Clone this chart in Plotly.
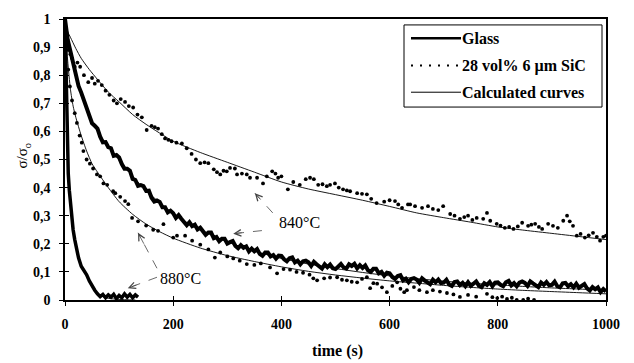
import plotly.graph_objects as go

# ---------------- data ----------------
x_ticks = [0, 200, 400, 600, 800, 1000]
x_tick_labels = ["0", "200", "400", "600", "800", "1000"]
y_ticks = [0, 0.1, 0.2, 0.3, 0.4, 0.5, 0.6, 0.7, 0.8, 0.9, 1.0]
y_tick_labels = ["0", "0,1", "0,2", "0,3", "0,4", "0,5", "0,6", "0,7", "0,8", "0,9", "1"]

# Glass, 840 °C (measured, noisy), one reading every 5 s
glass840_t = list(range(0, 1001, 5))
glass840_s = [
    1.0, 0.926, 0.885, 0.841, 0.797, 0.762, 0.738, 0.709, 0.689, 0.658,
    0.629, 0.62, 0.61, 0.581, 0.561, 0.562, 0.544, 0.54, 0.513, 0.516,
    0.507, 0.484, 0.467, 0.467, 0.46, 0.431, 0.427, 0.406, 0.409, 0.405,
    0.388, 0.389, 0.364, 0.35, 0.354, 0.349, 0.33, 0.33, 0.312, 0.318,
    0.309, 0.292, 0.302, 0.289, 0.277, 0.266, 0.277, 0.263, 0.268, 0.251,
    0.257, 0.242, 0.232, 0.24, 0.24, 0.22, 0.224, 0.209, 0.218, 0.218,
    0.201, 0.206, 0.21, 0.192, 0.184, 0.195, 0.186, 0.191, 0.173, 0.183,
    0.173, 0.181, 0.164, 0.157, 0.169, 0.169, 0.155, 0.16, 0.147, 0.158,
    0.157, 0.145, 0.138, 0.149, 0.152, 0.134, 0.14, 0.127, 0.138, 0.14,
    0.134, 0.121, 0.136, 0.127, 0.119, 0.112, 0.127, 0.117, 0.126, 0.113,
    0.11, 0.12, 0.128, 0.116, 0.112, 0.127, 0.121, 0.129, 0.113, 0.124,
    0.114, 0.123, 0.106, 0.1, 0.111, 0.111, 0.095, 0.1, 0.086, 0.097,
    0.095, 0.082, 0.075, 0.085, 0.088, 0.07, 0.076, 0.063, 0.075, 0.078,
    0.073, 0.061, 0.077, 0.069, 0.062, 0.056, 0.072, 0.063, 0.073, 0.06,
    0.062, 0.072, 0.055, 0.05, 0.064, 0.066, 0.053, 0.061, 0.049, 0.063,
    0.05, 0.059, 0.066, 0.051, 0.046, 0.06, 0.054, 0.064, 0.049, 0.062,
    0.063, 0.054, 0.049, 0.063, 0.068, 0.052, 0.06, 0.049, 0.062, 0.066,
    0.061, 0.05, 0.066, 0.059, 0.052, 0.046, 0.062, 0.054, 0.064, 0.052,
    0.054, 0.065, 0.049, 0.045, 0.059, 0.061, 0.049, 0.056, 0.045, 0.058,
    0.044, 0.051, 0.057, 0.041, 0.034, 0.046, 0.038, 0.045, 0.028, 0.039,
    0.03]

# Glass, 880 °C (measured)
glass880_t = [0, 1, 2, 3, 4, 5, 6, 8, 10, 12, 15, 18, 20, 25, 30, 35, 40, 45, 50, 55,
              60, 65, 70, 75, 80, 85, 90, 95, 100, 105, 110, 115, 120, 125, 130, 135]
glass880_s = [1.0, 0.9, 0.79, 0.68, 0.58, 0.5, 0.45, 0.39, 0.34, 0.30, 0.25, 0.215,
              0.195, 0.15, 0.12, 0.105, 0.09, 0.068, 0.05, 0.035, 0.022, 0.012, 0.02,
              0.008, 0.018, 0.01, 0.02, 0.005, 0.016, 0.008, 0.022, 0.01, 0.02, 0.008,
              0.018, 0.01]

# 28 vol% 6 um SiC, 840 °C (measured points)
sic840_t = [3, 6, 10, 13, 18, 23, 28, 35, 43, 50, 55, 61, 68, 75, 82, 90, 96, 103, 111,
            118, 126, 134, 142, 151, 160, 166, 172, 179, 185, 191, 197, 206, 216, 225,
            234, 242, 250, 258, 265, 275, 281, 287, 293, 299, 305, 314, 318, 327, 336,
            342, 355, 366, 373, 383, 389, 394, 400, 412, 422, 434, 445, 453, 460, 468,
            476, 484, 490, 499, 506, 514, 521, 527, 540, 549, 558, 566, 576, 590, 600,
            610, 616, 623, 634, 638, 647, 660, 671, 680, 690, 699, 712, 720, 730, 738,
            745, 753, 761, 773, 780, 786, 798, 805, 813, 821, 829, 837, 845, 856, 862,
            869, 876, 882, 893, 902, 911, 921, 928, 933, 939, 946, 953, 961, 968, 976,
            983, 989, 995, 1000]
sic840_s = [0.935, 0.89, 0.875, 0.86, 0.83, 0.845, 0.83, 0.80, 0.775, 0.79, 0.77, 0.78,
            0.765, 0.745, 0.73, 0.71, 0.70, 0.715, 0.705, 0.69, 0.685, 0.66, 0.65, 0.605,
            0.62, 0.615, 0.61, 0.59, 0.575, 0.57, 0.565, 0.56, 0.557, 0.54, 0.52, 0.50,
            0.487, 0.49, 0.487, 0.465, 0.455, 0.447, 0.46, 0.458, 0.47, 0.468, 0.447,
            0.45, 0.447, 0.435, 0.435, 0.415, 0.44, 0.458, 0.45, 0.435, 0.44, 0.394,
            0.42, 0.41, 0.43, 0.435, 0.43, 0.41, 0.412, 0.405, 0.41, 0.415, 0.40, 0.394,
            0.39, 0.387, 0.38, 0.378, 0.376, 0.36, 0.345, 0.35, 0.355, 0.352, 0.34,
            0.328, 0.34, 0.34, 0.334, 0.328, 0.334, 0.324, 0.32, 0.334, 0.306, 0.30,
            0.289, 0.295, 0.30, 0.285, 0.292, 0.289, 0.31, 0.282, 0.271, 0.265, 0.257,
            0.26, 0.253, 0.262, 0.275, 0.264, 0.268, 0.271, 0.26, 0.253, 0.271, 0.264,
            0.257, 0.282, 0.30, 0.28, 0.264, 0.229, 0.235, 0.222, 0.23, 0.239, 0.225,
            0.211, 0.225, 0.229]

# 28 vol% 6 um SiC, 880 °C (measured points)
sic880_t = [3, 6, 9, 13, 18, 22, 27, 31, 34, 40, 46, 52, 59, 65, 71, 78, 89, 93, 102,
            111, 117, 124, 135, 150, 163, 172, 182, 200, 207, 222, 235, 250, 265, 277,
            287, 300, 311, 323, 336, 350, 362, 379, 392, 404, 416, 428, 440, 452, 459,
            466, 479, 490, 503, 512, 521, 530, 540, 549, 558, 564, 570, 577, 586, 595,
            605, 614, 620, 627, 632, 645, 655, 669, 680, 693, 706, 718, 730, 745, 760,
            780, 790, 799, 808, 817, 826, 835, 847, 856, 867]
sic880_s = [0.90, 0.82, 0.76, 0.71, 0.665, 0.63, 0.585, 0.56, 0.53, 0.50, 0.485, 0.468,
            0.447, 0.44, 0.415, 0.41, 0.387, 0.38, 0.367, 0.352, 0.341, 0.292, 0.28,
            0.265, 0.25, 0.246, 0.27, 0.222, 0.229, 0.229, 0.211, 0.197, 0.18, 0.151,
            0.169, 0.155, 0.148, 0.14, 0.128, 0.125, 0.13, 0.116, 0.095, 0.11, 0.108,
            0.1, 0.097, 0.09, 0.077, 0.07, 0.077, 0.08, 0.081, 0.072, 0.07, 0.065, 0.063,
            0.075, 0.081, 0.042, 0.06, 0.058, 0.045, 0.028, 0.05, 0.063, 0.04, 0.028,
            0.035, 0.046, 0.035, 0.028, 0.035, 0.03, 0.025, 0.02, 0.011, 0.018, 0.012,
            0.022, 0.01, 0.007, 0.012, 0.004, 0.008, 0.0, 0.0, 0.005, 0.0]

# Calculated curves
calc_sic840_t = [0, 5, 10, 20, 30, 45, 60, 80, 100, 125, 150, 200, 250, 300, 350, 400,
                 450, 500, 550, 600, 650, 700, 750, 800, 850, 900, 950, 1000]
calc_sic840_s = [1.0, 0.955, 0.935, 0.895, 0.86, 0.82, 0.785, 0.74, 0.705, 0.66, 0.625,
                 0.565, 0.525, 0.49, 0.455, 0.42, 0.395, 0.375, 0.355, 0.333, 0.31,
                 0.293, 0.277, 0.26, 0.248, 0.237, 0.226, 0.215]

calc_glass840_t = [0, 5, 10, 20, 30, 45, 60, 80, 100, 125, 150, 200, 250, 300, 350, 400,
                   450, 500, 550, 600, 650, 700, 750, 800, 850, 900, 950, 1000]
calc_glass840_s = [1.0, 0.93, 0.88, 0.80, 0.73, 0.655, 0.60, 0.545, 0.50, 0.44, 0.39,
                   0.305, 0.25, 0.207, 0.174, 0.148, 0.128, 0.112, 0.098, 0.086, 0.076,
                   0.067, 0.06, 0.054, 0.048, 0.043, 0.039, 0.035]

calc_sic880_t = [0, 2, 5, 10, 15, 20, 30, 40, 50, 60, 80, 100, 125, 150, 175, 200, 250,
                 300, 350, 400, 450, 500, 550, 600, 650, 700, 750, 800, 850, 900, 950,
                 1000]
calc_sic880_s = [1.0, 0.93, 0.85, 0.75, 0.69, 0.65, 0.585, 0.53, 0.485, 0.455, 0.40,
                 0.35, 0.305, 0.27, 0.243, 0.22, 0.185, 0.158, 0.137, 0.118, 0.102,
                 0.089, 0.078, 0.068, 0.06, 0.052, 0.045, 0.039, 0.034, 0.03, 0.026,
                 0.022]

calc_glass880_t = [0, 1, 2, 3, 4, 5, 6, 8, 10, 12, 15, 20, 25, 30, 40, 50, 60, 70, 80,
                   100, 130]
calc_glass880_s = [1.0, 0.9, 0.79, 0.68, 0.58, 0.5, 0.45, 0.385, 0.34, 0.30, 0.25, 0.195,
                   0.155, 0.123, 0.085, 0.05, 0.025, 0.012, 0.006, 0.002, 0.0]

# legend entries
legend_labels = ["Glass", "28 vol% 6 µm SiC", "Calculated curves"]

# annotation labels and arrows: (head_t, head_s, tail_t, tail_s)
labels = [("840°C", 434, 0.275), ("880°C", 214, 0.077)]
arrows = [(351, 0.380, 384, 0.310),
          (311, 0.236, 364, 0.247),
          (135, 0.239, 170, 0.113),
          (116, 0.042, 170, 0.081)]

# ---------------- figure ----------------
SERIF = "Liberation Serif, Times New Roman, serif"
fig = go.Figure()

fig.add_trace(go.Scatter(x=glass840_t, y=glass840_s, mode="lines",
                         line=dict(color="black", width=4), name=legend_labels[0]))
fig.add_trace(go.Scatter(x=glass880_t, y=glass880_s, mode="lines",
                         line=dict(color="black", width=3.5), name=legend_labels[0]))
fig.add_trace(go.Scatter(x=sic840_t, y=sic840_s, mode="markers",
                         marker=dict(color="black", size=3.8), name=legend_labels[1]))
fig.add_trace(go.Scatter(x=sic880_t, y=sic880_s, mode="markers",
                         marker=dict(color="black", size=3.8), name=legend_labels[1]))
for tt, ss in [(calc_sic840_t, calc_sic840_s), (calc_glass840_t, calc_glass840_s),
               (calc_sic880_t, calc_sic880_s), (calc_glass880_t, calc_glass880_s)]:
    fig.add_trace(go.Scatter(x=tt, y=ss, mode="lines",
                             line=dict(color="black", width=0.9, shape="spline",
                                       smoothing=0.6),
                             name=legend_labels[2]))

# invisible trace for the overlay (inside-tick) axes
fig.add_trace(go.Scatter(x=[None], y=[None], xaxis="x2", yaxis="y2"))

tickfont = dict(family=SERIF, size=14, color="black", weight="bold")
fig.update_layout(
    width=634, height=363,
    margin=dict(l=65, r=28, t=16, b=63),
    paper_bgcolor="white", plot_bgcolor="white",
    showlegend=False,
    xaxis=dict(range=[0, 1000], tickvals=x_ticks, ticktext=x_tick_labels,
               ticks="outside", ticklen=4, tickwidth=1.2, tickcolor="black",
               showline=True, linecolor="black", linewidth=1.5, mirror=True,
               showgrid=False, zeroline=False, tickfont=tickfont,
               ticklabelstandoff=6),
    yaxis=dict(range=[0, 1], tickvals=y_ticks, ticktext=y_tick_labels,
               ticks="outside", ticklen=4, tickwidth=1.2, tickcolor="black",
               showline=True, linecolor="black", linewidth=1.5, mirror=True,
               showgrid=False, zeroline=False, tickfont=tickfont,
               ticklabelstandoff=6),
    xaxis2=dict(overlaying="x", matches="x", range=[0, 1000], tickvals=x_ticks,
                ticks="inside", ticklen=4, tickwidth=1.2, tickcolor="black",
                showticklabels=False, showline=False, showgrid=False, zeroline=False),
    yaxis2=dict(overlaying="y", matches="y", range=[0, 1], tickvals=y_ticks,
                ticks="inside", ticklen=4, tickwidth=1.2, tickcolor="black",
                showticklabels=False, showline=False, showgrid=False, zeroline=False),
)

annotations = []
shapes = []

# ---- legend box drawn in paper coordinates ----
def px_x(p):
    return (p - 65) / 541.0

def px_y(p):
    return (300 - p) / 284.0

shapes.append(dict(type="rect", xref="paper", yref="paper",
                   x0=px_x(404), x1=px_x(602), y0=px_y(105), y1=px_y(22),
                   line=dict(color="black", width=1), fillcolor="white", layer="above"))
row_y = [35.5, 63, 90]
sample_styles = [dict(color="black", width=2.6),
                 dict(color="black", width=2.2, dash="2px,7px"),
                 dict(color="black", width=1)]
for ry, st, lab in zip(row_y, sample_styles, legend_labels):
    shapes.append(dict(type="line", xref="paper", yref="paper",
                       x0=px_x(411), x1=px_x(461), y0=px_y(ry), y1=px_y(ry),
                       line=st, layer="above"))
    annotations.append(dict(x=px_x(460), y=px_y(ry), xref="paper", yref="paper",
                            text=lab, showarrow=False, xanchor="left", yanchor="middle",
                            font=dict(family=SERIF, size=16, color="black",
                                      weight="bold")))

for txt, lx, ly in labels:
    annotations.append(dict(x=lx, y=ly, xref="x", yref="y", text=txt, showarrow=False,
                            font=dict(family=SERIF, size=16, color="black")))
for hx, hy, tx, ty in arrows:
    shapes.append(dict(type="line", xref="x", yref="y", x0=tx, y0=ty, x1=hx, y1=hy,
                       line=dict(color="#444", width=0.8, dash="dash")))
    annotations.append(dict(x=hx, y=hy, xref="x", yref="y", text="",
                            ax=hx + 0.35 * (tx - hx), ay=hy + 0.35 * (ty - hy),
                            axref="x", ayref="y", showarrow=True,
                            arrowhead=5, arrowsize=1.6, arrowwidth=0.8,
                            arrowcolor="#444", standoff=0))
annotations.append(dict(x=px_x(337), y=px_y(352), xref="paper", yref="paper",
                        text="time (s)", showarrow=False, xanchor="center",
                        yanchor="middle",
                        font=dict(family=SERIF, size=16, color="black", weight="bold")))
annotations.append(dict(x=px_x(23), y=px_y(154), xref="paper", yref="paper",
                        text="σ/σ<sub>o</sub>", textangle=-90, showarrow=False,
                        xanchor="center", yanchor="middle",
                        font=dict(family=SERIF, size=15, color="black")))
fig.update_layout(annotations=annotations, shapes=shapes)

fig.write_html("out.html")
